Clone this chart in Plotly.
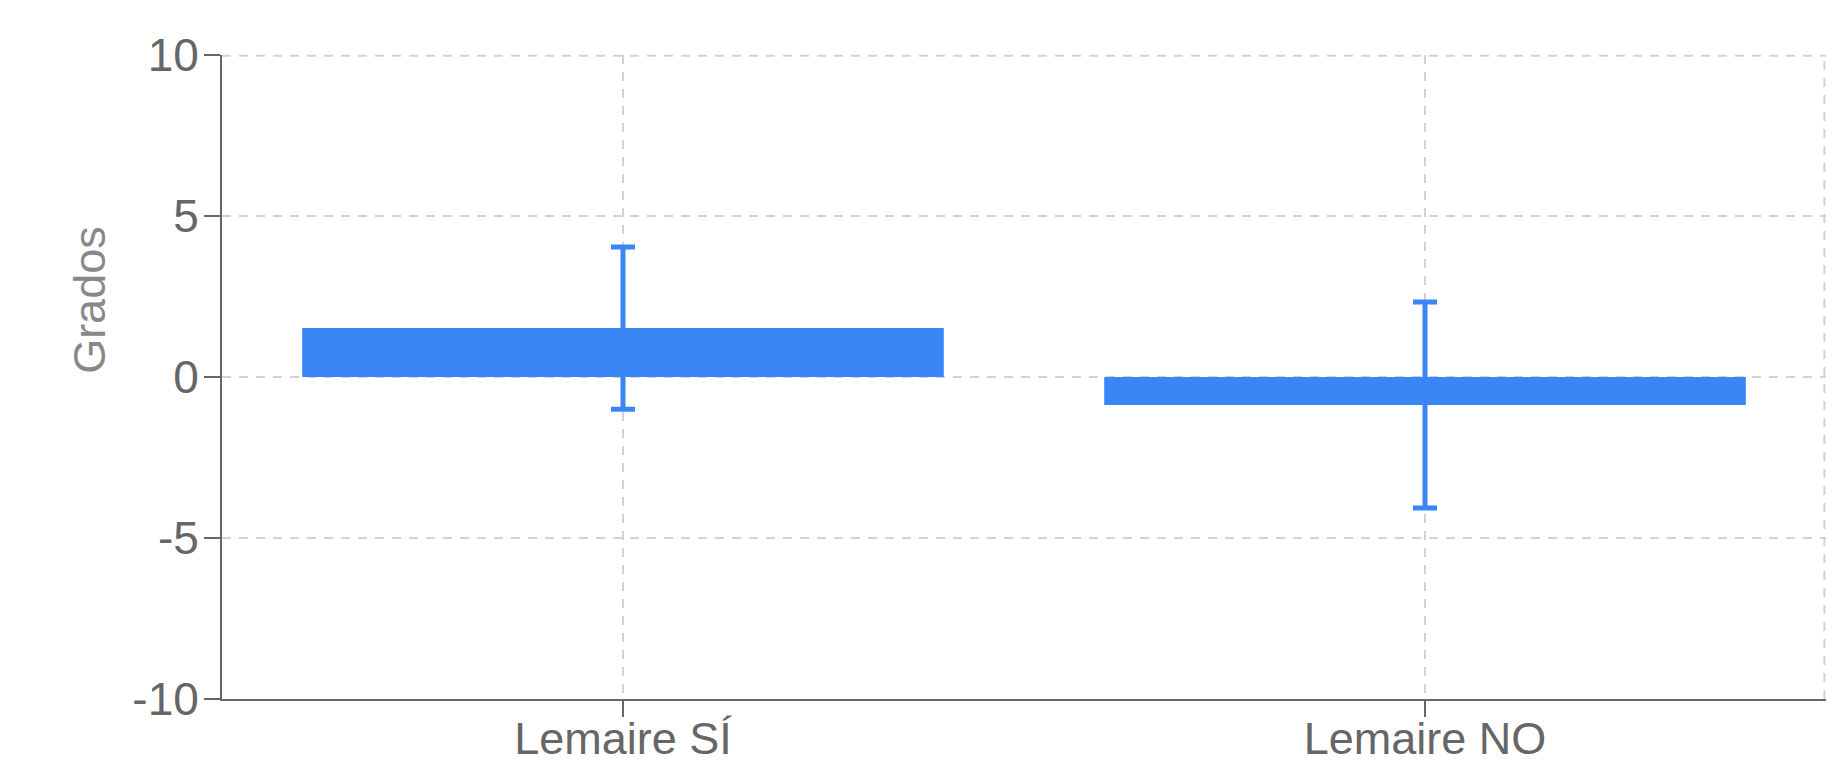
import plotly.graph_objects as go

categories = ["Lemaire SÍ", "Lemaire NO"]
values = [1.52, -0.87]
errors = [2.52, 3.2]
y_ticks = [-10, -5, 0, 5, 10]
y_tick_labels = ["-10", "-5", "0", "5", "10"]

BLUE = "#3b86f6"
AXIS = "#666666"
GRID = "#d2d2d2"
FONT = "Liberation Sans, Arial, Helvetica, sans-serif"

fig = go.Figure()
fig.add_trace(go.Bar(
    x=categories,
    y=values,
    marker=dict(color=BLUE, line=dict(width=0)),
    error_y=dict(type="data", array=errors, visible=True, color=BLUE,
                 thickness=5, width=12),
    showlegend=False,
))

grid_line = dict(color=GRID, width=2, dash="9px,8px")

fig.update_layout(
    width=1820, height=750,
    margin=dict(l=214, r=2, t=47, b=59),
    paper_bgcolor="white", plot_bgcolor="white",
    bargap=0.2,
    font=dict(family=FONT, size=45, color=AXIS),
    xaxis=dict(
        automargin=False,
        showline=True, linecolor=AXIS, linewidth=2,
        ticks="outside", ticklen=16, tickwidth=2, tickcolor=AXIS,
        showgrid=True, gridcolor=GRID, gridwidth=2, griddash="9px,8px",
        tickfont=dict(size=45, color=AXIS, family=FONT),
        zeroline=False,
        ticklabelstandoff=-17,
    ),
    yaxis=dict(
        automargin=False,
        range=[-10, 10], tickvals=y_ticks, ticktext=y_tick_labels,
        showline=True, linecolor=AXIS, linewidth=2,
        ticks="outside", ticklen=16, tickwidth=2, tickcolor=AXIS,
        showgrid=True, gridcolor=GRID, gridwidth=2, griddash="9px,8px",
        zeroline=False,
        tickfont=dict(size=46, color=AXIS, family=FONT),
        ticklabelstandoff=-4,
    ),
    annotations=[dict(
        text="Grados", xref="paper", yref="paper",
        x=-0.0822, y=0.62, xanchor="center", yanchor="middle",
        textangle=-90, showarrow=False,
        font=dict(size=45, color="#888888", family=FONT),
    )],
    shapes=[
        dict(type="line", xref="paper", yref="paper", x0=0.999, x1=0.999,
             y0=0, y1=1, line=grid_line, layer="below"),
        dict(type="line", xref="paper", yref="paper", x0=0, x1=1,
             y0=0.999, y1=0.999, line=grid_line, layer="below"),
    ],
)

fig.write_html("out.html")
